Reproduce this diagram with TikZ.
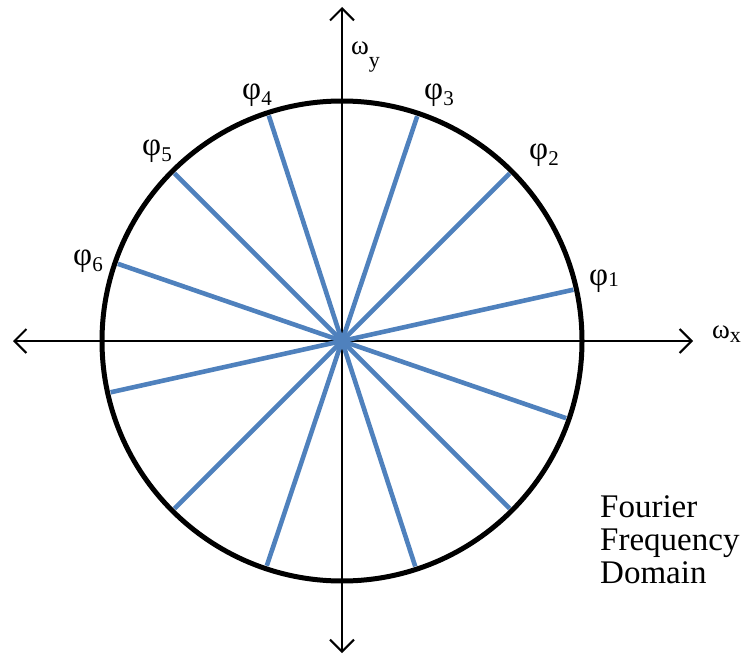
\documentclass[tikz,border=0pt]{standalone}
\usepackage{fontspec}
\setmainfont{Liberation Serif}
\usetikzlibrary{arrows.meta,calc}
\definecolor{rayblue}{HTML}{4F81BD}
\tikzset{
  axis/.style={line width=2pt, -{Straight Barb[length=12pt,width=24pt,line width=2pt]}},
  ray/.style={draw=rayblue, line width=4.6pt},
  rim/.style={draw=black, line width=5pt},
  philab/.style={font=\fontsize{33}{34}\selectfont, inner sep=0pt},
  omlab/.style={font=\fontsize{27}{28}\selectfont, inner sep=0pt, anchor=base west},
  caption/.style={font=\fontsize{33}{33}\selectfont, inner sep=0pt, anchor=base west}
}
\newcommand{\philabel}[2]{φ\raisebox{#2}{\fontsize{21}{22}\selectfont #1}}
\begin{document}
\begin{tikzpicture}[x=1pt,y=-1pt]
\useasboundingbox (0,0) rectangle (749,655);
\coordinate (O) at (342,341);
\coordinate (L) at (13,341);
\coordinate (R) at (693,341);
\coordinate (T) at (342,7);
\coordinate (B) at (342,653);
\draw[axis] (O) -- (R);
\draw[axis] (O) -- (L);
\draw[axis] (O) -- (T);
\draw[axis] (O) -- (B);
\draw[rim] (O) circle[radius=240];
\foreach \a in {12.5,45,71.5,108,135,161}{
  \draw[ray] ($(O)+(-\a:237)$) -- ($(O)+(180-\a:237)$);
}
\node[philab] (p1) at (604,281) {\philabel{1}{-1pt}};
\node[philab] (p2) at (544,155) {\philabel{2}{-6pt}};
\node[philab] (p3) at (439,95) {\philabel{3}{-6pt}};
\node[philab] (p4) at (257,95) {\philabel{4}{-6pt}};
\node[philab] (p5) at (157,151) {\philabel{5}{-6pt}};
\node[philab] (p6) at (88,261) {\philabel{6}{-6pt}};
\node[omlab] (wy) at (351,55) {ω\raisebox{-13pt}{\fontsize{22}{24}\selectfont y}};
\node[omlab] (wx) at (712,338) {ω\raisebox{-4pt}{\fontsize{22}{24}\selectfont x}};
\node[caption] (cap1) at (600,517) {Fourier};
\node[caption] (cap2) at (600,550) {Frequency};
\node[caption] (cap3) at (600,583) {Domain};
\end{tikzpicture}
\end{document}
